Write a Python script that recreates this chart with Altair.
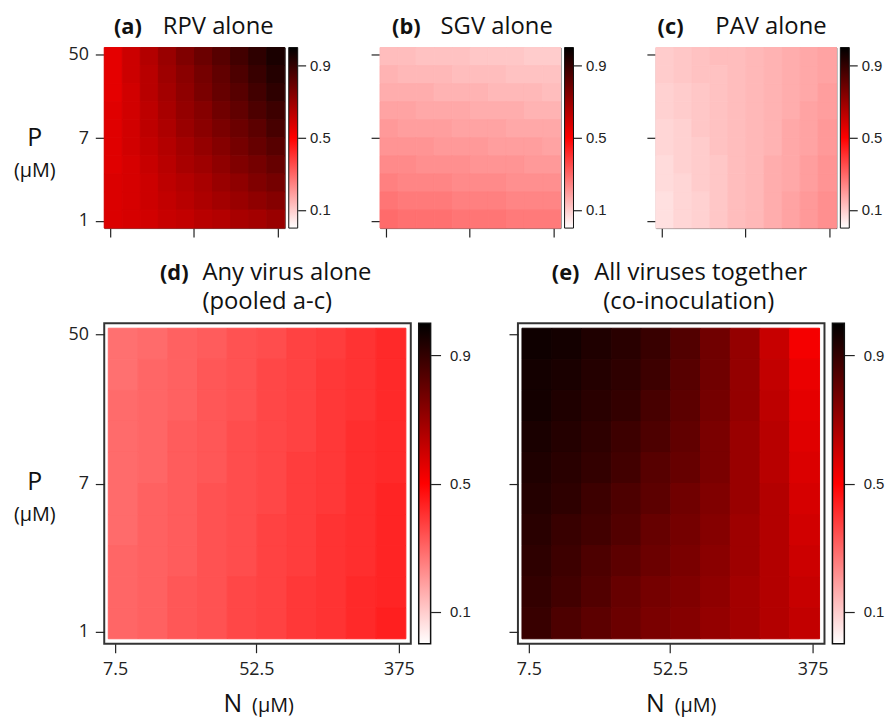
import altair as alt
import numpy as np
import pandas as pd

# ---------------- data ----------------
N_TICKS = [7.5, 52.5, 375]      # N (uM) axis ticks
P_TICKS = [1, 7, 50]            # P (uM) axis ticks
BAR_TICKS = [0.1, 0.5, 0.9]     # colour bar ticks
COLOR_STOPS = [0.0, 0.5, 1.0]
COLOR_RANGE = ["#ffffff", "#ff0000", "#000000"]

TAGS = ["(a)", "(b)", "(c)", "(d)", "(e)"]
NAMES = ["RPV alone", "SGV alone", "PAV alone", "Any virus alone", "All viruses together"]
SUBS = ["", "", "", "(pooled a-c)", "(co-inoculation)"]
AXIS_P = ["P", "(μM)"]
AXIS_N = ["N", "(μM)"]

# probability grids: rows from P=50 (top) to P=1 (bottom), columns N=7.5 -> 375
RPV = [
    [0.55, 0.60, 0.65, 0.70, 0.75, 0.79, 0.83, 0.87, 0.91, 0.95],
    [0.55, 0.60, 0.64, 0.69, 0.73, 0.77, 0.81, 0.85, 0.89, 0.93],
    [0.55, 0.59, 0.64, 0.68, 0.72, 0.76, 0.80, 0.83, 0.87, 0.91],
    [0.56, 0.59, 0.63, 0.67, 0.71, 0.74, 0.78, 0.81, 0.85, 0.88],
    [0.56, 0.59, 0.63, 0.66, 0.70, 0.73, 0.76, 0.79, 0.82, 0.86],
    [0.56, 0.59, 0.62, 0.65, 0.68, 0.71, 0.74, 0.77, 0.80, 0.83],
    [0.56, 0.58, 0.61, 0.64, 0.67, 0.69, 0.72, 0.75, 0.77, 0.80],
    [0.57, 0.58, 0.60, 0.63, 0.65, 0.67, 0.70, 0.72, 0.75, 0.77],
    [0.57, 0.58, 0.60, 0.62, 0.64, 0.66, 0.68, 0.70, 0.72, 0.74],
    [0.57, 0.58, 0.59, 0.61, 0.62, 0.64, 0.65, 0.67, 0.68, 0.70],
]
SGV = [
    [0.13, 0.13, 0.12, 0.12, 0.12, 0.11, 0.11, 0.11, 0.10, 0.10],
    [0.15, 0.14, 0.14, 0.14, 0.13, 0.13, 0.13, 0.12, 0.12, 0.12],
    [0.16, 0.16, 0.16, 0.15, 0.15, 0.15, 0.14, 0.14, 0.14, 0.13],
    [0.18, 0.18, 0.17, 0.17, 0.17, 0.16, 0.16, 0.16, 0.15, 0.15],
    [0.20, 0.19, 0.19, 0.19, 0.18, 0.18, 0.18, 0.17, 0.17, 0.17],
    [0.21, 0.21, 0.21, 0.20, 0.20, 0.20, 0.19, 0.19, 0.19, 0.18],
    [0.23, 0.23, 0.22, 0.22, 0.22, 0.21, 0.21, 0.21, 0.20, 0.20],
    [0.25, 0.24, 0.24, 0.24, 0.23, 0.23, 0.23, 0.22, 0.22, 0.22],
    [0.27, 0.26, 0.26, 0.26, 0.25, 0.25, 0.25, 0.24, 0.24, 0.24],
    [0.29, 0.28, 0.28, 0.28, 0.27, 0.27, 0.27, 0.26, 0.26, 0.26],
]
PAV = [
    [0.10, 0.11, 0.12, 0.13, 0.13, 0.14, 0.15, 0.16, 0.17, 0.18],
    [0.10, 0.11, 0.12, 0.12, 0.13, 0.14, 0.15, 0.16, 0.17, 0.18],
    [0.09, 0.10, 0.11, 0.12, 0.13, 0.14, 0.15, 0.16, 0.17, 0.19],
    [0.09, 0.10, 0.11, 0.12, 0.13, 0.14, 0.15, 0.16, 0.18, 0.19],
    [0.08, 0.09, 0.11, 0.12, 0.13, 0.14, 0.15, 0.17, 0.18, 0.20],
    [0.08, 0.09, 0.10, 0.12, 0.13, 0.14, 0.15, 0.17, 0.18, 0.20],
    [0.07, 0.09, 0.10, 0.11, 0.13, 0.14, 0.16, 0.17, 0.19, 0.21],
    [0.07, 0.08, 0.10, 0.11, 0.13, 0.14, 0.16, 0.17, 0.19, 0.21],
    [0.06, 0.08, 0.09, 0.11, 0.13, 0.14, 0.16, 0.18, 0.20, 0.22],
    [0.06, 0.08, 0.09, 0.11, 0.13, 0.14, 0.16, 0.18, 0.20, 0.22],
]
ANY = [
    [0.28, 0.29, 0.31, 0.32, 0.34, 0.35, 0.37, 0.38, 0.40, 0.42],
    [0.28, 0.30, 0.31, 0.33, 0.34, 0.36, 0.37, 0.39, 0.40, 0.42],
    [0.29, 0.30, 0.31, 0.33, 0.34, 0.36, 0.37, 0.39, 0.40, 0.42],
    [0.29, 0.30, 0.32, 0.33, 0.35, 0.36, 0.37, 0.39, 0.41, 0.42],
    [0.29, 0.30, 0.32, 0.33, 0.35, 0.36, 0.38, 0.39, 0.41, 0.42],
    [0.29, 0.31, 0.32, 0.34, 0.35, 0.36, 0.38, 0.39, 0.41, 0.43],
    [0.29, 0.31, 0.32, 0.34, 0.35, 0.37, 0.38, 0.40, 0.41, 0.43],
    [0.30, 0.31, 0.32, 0.34, 0.35, 0.37, 0.38, 0.40, 0.41, 0.43],
    [0.30, 0.31, 0.33, 0.34, 0.36, 0.37, 0.39, 0.40, 0.42, 0.43],
    [0.30, 0.31, 0.33, 0.34, 0.36, 0.37, 0.39, 0.40, 0.42, 0.44],
]
ALL = [
    [0.97, 0.96, 0.94, 0.92, 0.89, 0.84, 0.78, 0.71, 0.61, 0.52],
    [0.96, 0.95, 0.93, 0.91, 0.88, 0.83, 0.78, 0.71, 0.62, 0.54],
    [0.96, 0.94, 0.92, 0.90, 0.86, 0.82, 0.77, 0.71, 0.63, 0.55],
    [0.95, 0.93, 0.91, 0.88, 0.85, 0.81, 0.76, 0.70, 0.64, 0.56],
    [0.94, 0.92, 0.90, 0.87, 0.83, 0.80, 0.76, 0.70, 0.64, 0.57],
    [0.93, 0.91, 0.88, 0.85, 0.82, 0.78, 0.75, 0.70, 0.65, 0.58],
    [0.92, 0.89, 0.87, 0.84, 0.80, 0.77, 0.74, 0.69, 0.65, 0.59],
    [0.91, 0.88, 0.85, 0.82, 0.79, 0.76, 0.73, 0.69, 0.65, 0.60],
    [0.90, 0.87, 0.84, 0.80, 0.77, 0.75, 0.72, 0.68, 0.65, 0.61],
    [0.89, 0.85, 0.82, 0.79, 0.76, 0.74, 0.71, 0.68, 0.65, 0.62],
]

# extents of the image grid on the log axes (tick values plus half-cell margins)
TOP_N_EXT = [6.5, 440.0]
TOP_P_EXT = [0.84, 59.0]
BOT_N_EXT = [6.82, 412.7]
BOT_P_EXT = [0.913, 54.1]
BOT_N_DOM = [6.45, 441.7]
BOT_P_DOM = [0.855, 57.7]

FONT = "Open Sans"
CSCALE = alt.Scale(domain=COLOR_STOPS, range=COLOR_RANGE, interpolate="rgb")


def cells(grid, n_ext, p_ext):
    n_edges = np.geomspace(n_ext[0], n_ext[1], len(grid[0]) + 1)
    p_edges = np.geomspace(p_ext[0], p_ext[1], len(grid) + 1)
    nr = len(grid)
    rows = []
    for r, row in enumerate(grid):
        k = nr - 1 - r
        for c, v in enumerate(row):
            rows.append(dict(N0=n_edges[c], N1=n_edges[c + 1],
                             P0=p_edges[k], P1=p_edges[k + 1], v=v))
    return pd.DataFrame(rows)


def heat(grid, n_ext, p_ext, n_dom, p_dom, xlab, ylab):
    common = dict(tickSize=9, tickColor="#222", tickWidth=1.2, domain=False, grid=False,
                  labelFont=FONT, labelFontSize=18, labelColor="#222", title=None,
                  labelExpr="format(datum.value, '~g')")
    return alt.Chart(cells(grid, n_ext, p_ext)).mark_rect(strokeWidth=1).encode(
        x=alt.X("N0:Q", scale=alt.Scale(type="log", domain=n_dom, nice=False),
                axis=alt.Axis(values=N_TICKS, labels=xlab, labelPadding=8, **common)),
        x2="N1:Q",
        y=alt.Y("P0:Q", scale=alt.Scale(type="log", domain=p_dom, nice=False),
                axis=alt.Axis(values=P_TICKS, labels=ylab, labelPadding=7, **common)),
        y2="P1:Q",
        color=alt.Color("v:Q", scale=CSCALE, legend=None),
        stroke=alt.Stroke("v:Q", scale=CSCALE, legend=None),
    )


def txt(s, x, y, size, bold=False, align="left"):
    return alt.Chart(pd.DataFrame({"t": [s]})).mark_text(
        align=align, baseline="alphabetic", font=FONT, fontSize=size,
        fontWeight="bold" if bold else "normal", color="#111"
    ).encode(x=alt.value(x), y=alt.value(y), text="t:N")


def colorbar(w, h, gap, bw, tick, pad, sw):
    grad = alt.LinearGradient(
        gradient="linear",
        stops=[alt.GradientStop(color=c, offset=o) for o, c in zip(COLOR_STOPS, COLOR_RANGE)],
        x1=0, x2=0, y1=1, y2=0)
    return alt.Chart(pd.DataFrame({"k": [0]})).mark_rect(
        fill=grad, stroke="#111", strokeWidth=sw
    ).encode(
        x=alt.value(w + gap), x2=alt.value(w + gap + bw),
        y=alt.YDatum(COLOR_STOPS[0], type="quantitative",
                     scale=alt.Scale(domain=[COLOR_STOPS[0], COLOR_STOPS[-1]], nice=False, zero=False),
                     axis=alt.Axis(orient="right", offset=gap + bw, values=BAR_TICKS, tickSize=tick,
                                   tickColor="#222", tickWidth=1.2, labelPadding=pad, domain=False,
                                   grid=False, labelFont="Liberation Sans", labelFontSize=15,
                                   labelColor="#222", title=None, labelOverlap=False)),
        y2=alt.Y2Datum(COLOR_STOPS[-1]),
    )


TW, TH = 182, 182
BW, BH = 309, 323
top_view = alt.ViewBackground(stroke="#555", strokeWidth=1)
bot_view = alt.ViewBackground(stroke="#333", strokeWidth=2)


def top_panel(grid, i, ylab, tag_x, name_x, extra):
    return alt.layer(
        heat(grid, TOP_N_EXT, TOP_P_EXT, TOP_N_EXT, TOP_P_EXT, False, ylab),
        colorbar(TW, TH, 4, 9, 8, 4, 1),
        txt(TAGS[i], tag_x, -14, 22, True, "right"), txt(NAMES[i], name_x, -14, 24),
        *extra,
    ).resolve_scale(y="independent").properties(width=TW, height=TH, view=top_view)


def bot_panel(grid, i, ylab, tag_x, name_x, sub_x, n_x, extra):
    return alt.layer(
        heat(grid, BOT_N_EXT, BOT_P_EXT, BOT_N_DOM, BOT_P_DOM, True, ylab),
        colorbar(BW, BH, 8, 12, 10, 9, 1.5),
        txt(TAGS[i], tag_x, -44, 22, True, "right"), txt(NAMES[i], name_x, -44, 24),
        txt(SUBS[i], sub_x, -14, 24),
        txt(AXIS_N[0], n_x, 392, 25, align="right"), txt(AXIS_N[1], n_x + 10, 392, 20),
        *extra,
    ).resolve_scale(y="independent").properties(width=BW, height=BH, view=bot_view)


pa = top_panel(RPV, 0, True, 38, 59,
               [txt(AXIS_P[0], -70, 99, 25, align="center"),
                txt(AXIS_P[1], -70, 130, 20, align="center")])
pb = top_panel(SGV, 1, False, 41, 61, [])
pc = top_panel(PAV, 2, False, 28, 60, [])

pd_ = bot_panel(ANY, 3, True, 85, 99, 99, 139,
                [txt(AXIS_P[0], -70, 168, 25, align="center"),
                 txt(AXIS_P[1], -70, 199, 20, align="center")])
pe = bot_panel(ALL, 4, False, 62, 77, 86, 148, [])

top = alt.hconcat(pa, pb, pc, spacing=96, bounds="flush")
bottom = alt.hconcat(pd_, pe, spacing=108, bounds="flush")

chart = alt.vconcat(top, bottom, spacing=21).properties(
    padding={"left": 4, "top": 3, "right": 0, "bottom": 0}
).configure(font=FONT)

chart.save("out.html", embed_options={"renderer": "svg", "actions": False})
